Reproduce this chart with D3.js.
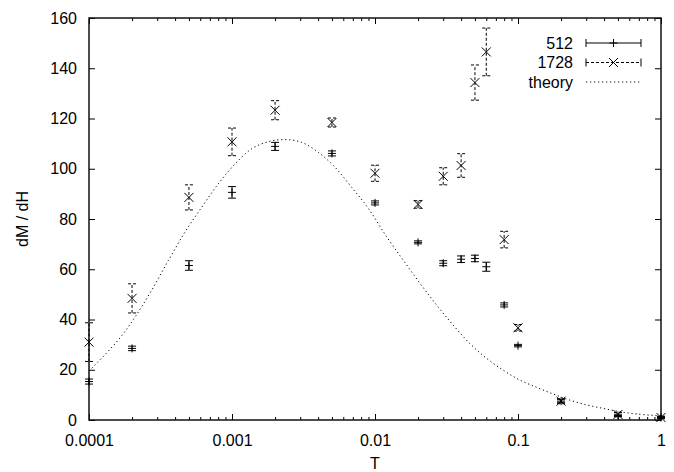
<!DOCTYPE html>
<html>
<head>
<meta charset="utf-8">
<script src="https://cdn.jsdelivr.net/npm/d3@7"></script>
<style>
  body { margin: 0; background: #fff; }
  svg text { font-family: "Liberation Sans", Arial, Helvetica, sans-serif; fill: #000; }
</style>
</head>
<body>
<div id="chart"></div>
<script>
// temperatures shared by both data sets
const temps = [0.0001, 0.0002, 0.0005, 0.001, 0.002, 0.005, 0.01, 0.02, 0.03, 0.04, 0.05, 0.06, 0.08, 0.1, 0.2, 0.5, 1];

// N = 512
const vals512 = [15.3, 28.5, 61.5, 90.6, 108.9, 106.1, 86.4, 70.7, 62.4, 64, 64.3, 61, 45.8, 29.6, 7.5, 1.8, 1];
const err512 = [1, 0.9, 1.9, 2.3, 1.6, 1, 0.8, 0.6, 1, 1.3, 1.3, 1.8, 0.8, 0.5, 0.6, 0.5, 0.3];

// N = 1728
const vals1728 = [31, 48.4, 88.6, 110.7, 123.3, 118.4, 98.2, 85.8, 97, 101.3, 134.3, 146.5, 71.8, 36.7, 7.5, 2.2, 1];
const err1728 = [7.7, 5.8, 5, 5.5, 3.8, 1.8, 3.2, 1.5, 3.4, 4.7, 7, 9.5, 3.3, 1.3, 1, 0.8, 0.5];

// theory curve
const theoryT = [0.0001, 0.00016, 0.00021, 0.000274, 0.000359, 0.000469, 0.000614, 0.000802, 0.00105, 0.00137, 0.0018, 0.00235,
  0.00307, 0.00402, 0.00525, 0.00687, 0.00897, 0.0121, 0.0158, 0.0207, 0.027, 0.0353, 0.0461, 0.0604, 0.0789, 0.103,
  0.135, 0.177, 0.231, 0.302, 0.395, 0.516, 0.676, 1];
const theoryV = [19.5, 31.8, 41, 51.6, 63.5, 74.8, 84.7, 94, 101.9, 107.9, 110.8, 111.6,
  110.5, 106.5, 100.6, 92.6, 84.3, 72.8, 63.5, 54.3, 45.7, 37.7, 30.4, 24.5, 19.8, 15.9,
  13, 10.3, 7.9, 6, 4.6, 3.3, 2.4, 1.6];

const xTicks = [0.0001, 0.001, 0.01, 0.1, 1];
const xTickLabels = ['0.0001', '0.001', '0.01', '0.1', '1'];
const yTicks = [0, 20, 40, 60, 80, 100, 120, 140, 160];

const W = 674, H = 472;
const margin = { top: 18, right: 13, bottom: 52, left: 89 };
const width = W - margin.left - margin.right;
const height = H - margin.top - margin.bottom;

const svg = d3.select('#chart').append('svg')
  .attr('width', W)
  .attr('height', H);

const g = svg.append('g')
  .attr('transform', `translate(${margin.left},${margin.top})`);

const x = d3.scaleLog().domain([0.0001, 1]).range([0, width]);
const y = d3.scaleLinear().domain([0, 160]).range([height, 0]);

// minor ticks 2..9 in every decade
const minorTicks = [];
[0.0001, 0.001, 0.01, 0.1].forEach(d => {
  for (let k = 2; k <= 9; k++) minorTicks.push(d * k);
});

// bottom axis with labels
const xAxis = g.append('g')
  .attr('transform', `translate(0,${height})`)
  .call(d3.axisBottom(x).tickValues(xTicks).tickFormat((d, i) => xTickLabels[i]).tickSize(-6).tickPadding(15));
xAxis.select('.domain').remove();
xAxis.selectAll('text').style('font-size', '16px');

g.append('g')
  .attr('transform', `translate(0,${height})`)
  .call(d3.axisBottom(x).tickValues(minorTicks).tickFormat('').tickSize(-3))
  .select('.domain').remove();

// mirrored ticks on top
const xTop = g.append('g')
  .call(d3.axisTop(x).tickValues(xTicks).tickFormat('').tickSize(-6));
xTop.select('.domain').remove();
g.append('g')
  .call(d3.axisTop(x).tickValues(minorTicks).tickFormat('').tickSize(-3))
  .select('.domain').remove();

// left axis
const yAxis = g.append('g')
  .call(d3.axisLeft(y).tickValues(yTicks).tickSize(-6).tickPadding(12));
yAxis.select('.domain').remove();
yAxis.selectAll('text').style('font-size', '16px');

// right mirrored ticks
g.append('g')
  .attr('transform', `translate(${width},0)`)
  .call(d3.axisRight(y).tickValues(yTicks).tickFormat('').tickSize(-6))
  .select('.domain').remove();

g.selectAll('.tick line').attr('stroke', '#000').attr('stroke-width', 1);

// frame
g.append('rect')
  .attr('x', 0).attr('y', 0)
  .attr('width', width).attr('height', height)
  .attr('fill', 'none')
  .attr('stroke', '#111')
  .attr('stroke-width', 1.5);

// axis titles
svg.append('text')
  .attr('x', margin.left + width / 2)
  .attr('y', 469)
  .attr('text-anchor', 'middle')
  .style('font-size', '16px')
  .text('T');

svg.append('text')
  .attr('transform', `translate(28,${margin.top + height / 2}) rotate(-90)`)
  .attr('text-anchor', 'middle')
  .style('font-size', '16px')
  .text('dM / dH');

// theory curve
const line = d3.line()
  .x(d => x(d[0]))
  .y(d => y(d[1]))
  .curve(d3.curveCatmullRom);

g.append('path')
  .datum(theoryT.map((t, i) => [t, theoryV[i]]))
  .attr('d', line)
  .attr('fill', 'none')
  .attr('stroke', '#000')
  .attr('stroke-width', 1)
  .attr('stroke-dasharray', '1.2,2.8');

const capHalf = 4;

function drawSeries(vals, errs, dash, symbol) {
  const data = temps.map((t, i) => ({ t: t, v: vals[i], e: errs[i] }));
  const grp = g.append('g').attr('stroke', '#000').attr('stroke-width', 1).attr('fill', 'none');

  const bars = grp.selectAll('g.bar').data(data).join('g').attr('class', 'bar')
    .attr('stroke-dasharray', dash);
  bars.append('line')
    .attr('x1', d => x(d.t)).attr('x2', d => x(d.t))
    .attr('y1', d => y(d.v - d.e)).attr('y2', d => y(d.v + d.e));
  bars.append('line')
    .attr('x1', d => x(d.t) - capHalf).attr('x2', d => x(d.t) + capHalf)
    .attr('y1', d => y(d.v + d.e)).attr('y2', d => y(d.v + d.e));
  bars.append('line')
    .attr('x1', d => x(d.t) - capHalf).attr('x2', d => x(d.t) + capHalf)
    .attr('y1', d => y(d.v - d.e)).attr('y2', d => y(d.v - d.e));

  grp.selectAll('path.sym').data(data).join('path')
    .attr('class', 'sym')
    .attr('d', d => symbol(x(d.t), y(d.v)));
}

const plusSym = (cx, cy) => `M${cx - 4},${cy}H${cx + 4}M${cx},${cy - 4}V${cy + 4}`;
const crossSym = (cx, cy) => `M${cx - 4.5},${cy - 4.5}L${cx + 4.5},${cy + 4.5}M${cx - 4.5},${cy + 4.5}L${cx + 4.5},${cy - 4.5}`;

drawSeries(vals512, err512, null, plusSym);
drawSeries(vals1728, err1728, '3,2', crossSym);

// legend
const legendItems = [
  { label: '512', dash: null, sym: plusSym, caps: true },
  { label: '1728', dash: '3,2', sym: crossSym, caps: true },
  { label: 'theory', dash: '1.2,2.8', sym: null, caps: false }
];
const lx1 = 586, lx2 = 641, ltext = 573;
legendItems.forEach((it, i) => {
  const ly = 43 + i * 19.5;
  svg.append('text')
    .attr('x', ltext).attr('y', ly)
    .attr('dy', '0.35em')
    .attr('text-anchor', 'end')
    .style('font-size', '16px')
    .text(it.label);
  const lg = svg.append('g').attr('stroke', '#000').attr('stroke-width', 1).attr('fill', 'none');
  lg.append('line').attr('x1', lx1).attr('x2', lx2).attr('y1', ly).attr('y2', ly)
    .attr('stroke-dasharray', it.dash);
  if (it.caps) {
    lg.append('line').attr('x1', lx1).attr('x2', lx1).attr('y1', ly - capHalf).attr('y2', ly + capHalf);
    lg.append('line').attr('x1', lx2).attr('x2', lx2).attr('y1', ly - capHalf).attr('y2', ly + capHalf);
  }
  if (it.sym) lg.append('path').attr('d', it.sym((lx1 + lx2) / 2, ly));
});
</script>
</body>
</html>
